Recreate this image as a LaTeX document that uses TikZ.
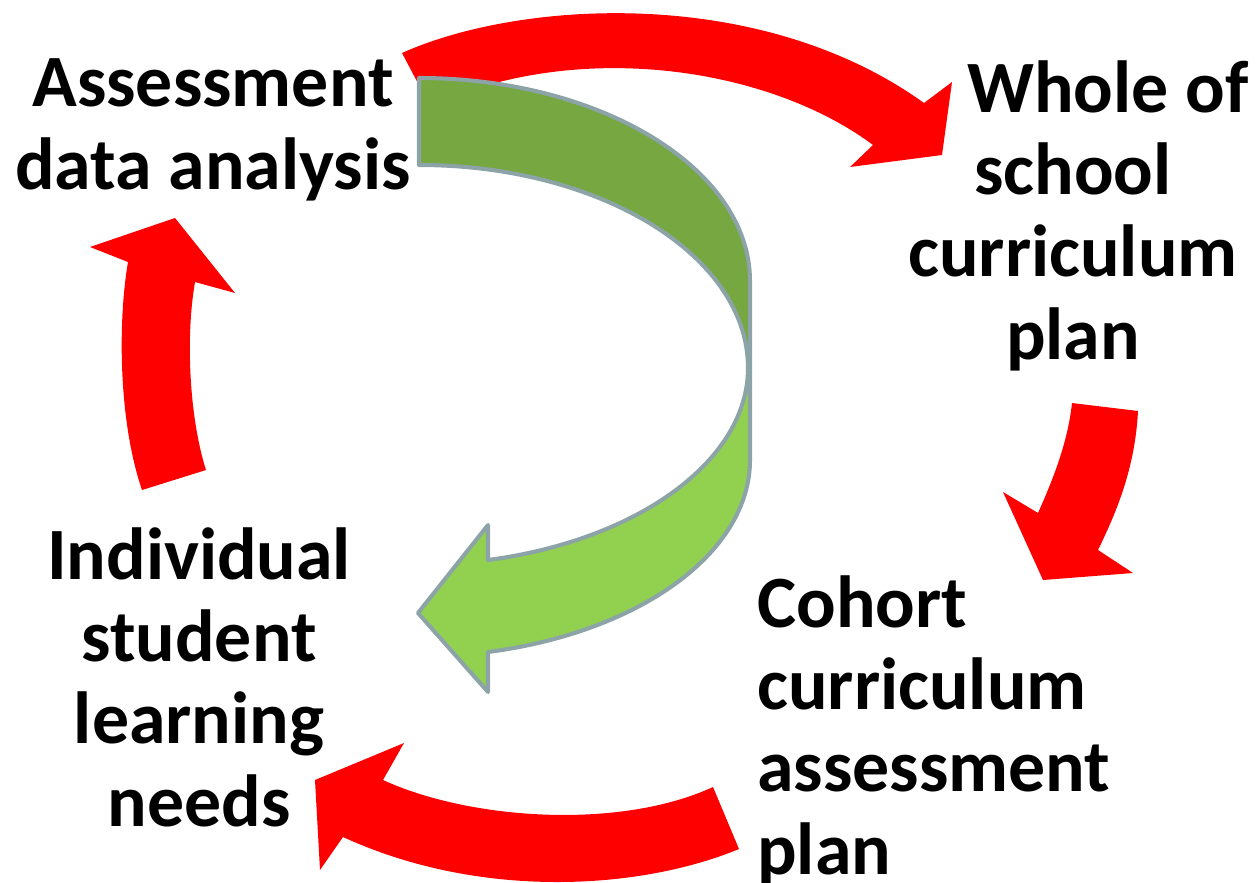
\documentclass[tikz,border=0pt]{standalone}
\usepackage{fontspec}
\setmainfont{Carlito}
\usepackage{xcolor}

\definecolor{cyclered}{HTML}{FF0000}
\definecolor{backgreen}{HTML}{76A740}
\definecolor{frontgreen}{HTML}{92D050}
\definecolor{greenedge}{HTML}{8CA3A7}

\begin{document}
\begin{tikzpicture}[x=0.02cm,y=-0.02cm,
    steptext/.style={font=\fontsize{42}{46.7}\selectfont\bfseries, inner sep=0pt, align=center, anchor=base},
    redarrow/.style={fill=cyclered, draw=none},
    greenarrow/.style={draw=greenedge, line width=2.3pt, line join=round}]
        \useasboundingbox (0,0) rectangle (1257,882);

        % red arrows round the cycle
        \fill[redarrow] (402,53) .. controls (520,0) and (760,-15) .. (924,103)
            -- (952,82) -- (942,155) -- (850,167) -- (873,145)
            .. controls (770,68) and (580,38) .. (430,106) -- cycle;
        \fill[redarrow] (1072,403) -- (1138,411) .. controls (1135,470) and (1115,515) .. (1098,550)
            -- (1133,573) -- (1043,580) -- (1003,492) -- (1038,513)
            .. controls (1055,475) and (1068,440) .. (1072,403) -- cycle;
        \fill[redarrow] (713,787) -- (739,849) .. controls (640,890) and (480,900) .. (343,837)
            -- (320,870) -- (315,780) -- (404,743) -- (383,780)
            .. controls (470,820) and (620,830) .. (713,787) -- cycle;
        \fill[redarrow] (142,490) .. controls (118,420) and (118,320) .. (128,262)
            -- (90,247) -- (175,218) -- (235,293) -- (195,282)
            .. controls (185,340) and (190,420) .. (206,470) -- cycle;

        % green arrow, back and front of the band
        \filldraw[greenarrow, fill=backgreen] (419,78) .. controls (601,78) and (750,169) .. (750,281)
            -- (750,368) -- (748,368) .. controls (748,256) and (601,165) .. (419,165) -- cycle;
        \filldraw[greenarrow, fill=frontgreen] (748,368) -- (750,368) -- (750,460)
            .. controls (750,552) and (641,632) .. (488,652)
            -- (488,692) -- (418,613) -- (488,525) -- (488,560)
            .. controls (639,540) and (748,460) .. (748,368) -- cycle;

        % texts sit on the baseline of their last line
        \node[steptext] (assess) at (213,189) {Assessment\\data analysis};
        \node[steptext] (whole) at (1073,359) {\hspace*{1.4cm}Whole of\\school\\curriculum\\plan};
        \node[steptext, align=left, anchor=base west] (cohort) at (757,874) {Cohort\\curriculum\\assessment\\plan};
        \node[steptext] (indiv) at (199,826) {Individual\\student\\learning\\needs};
\end{tikzpicture}
\end{document}
